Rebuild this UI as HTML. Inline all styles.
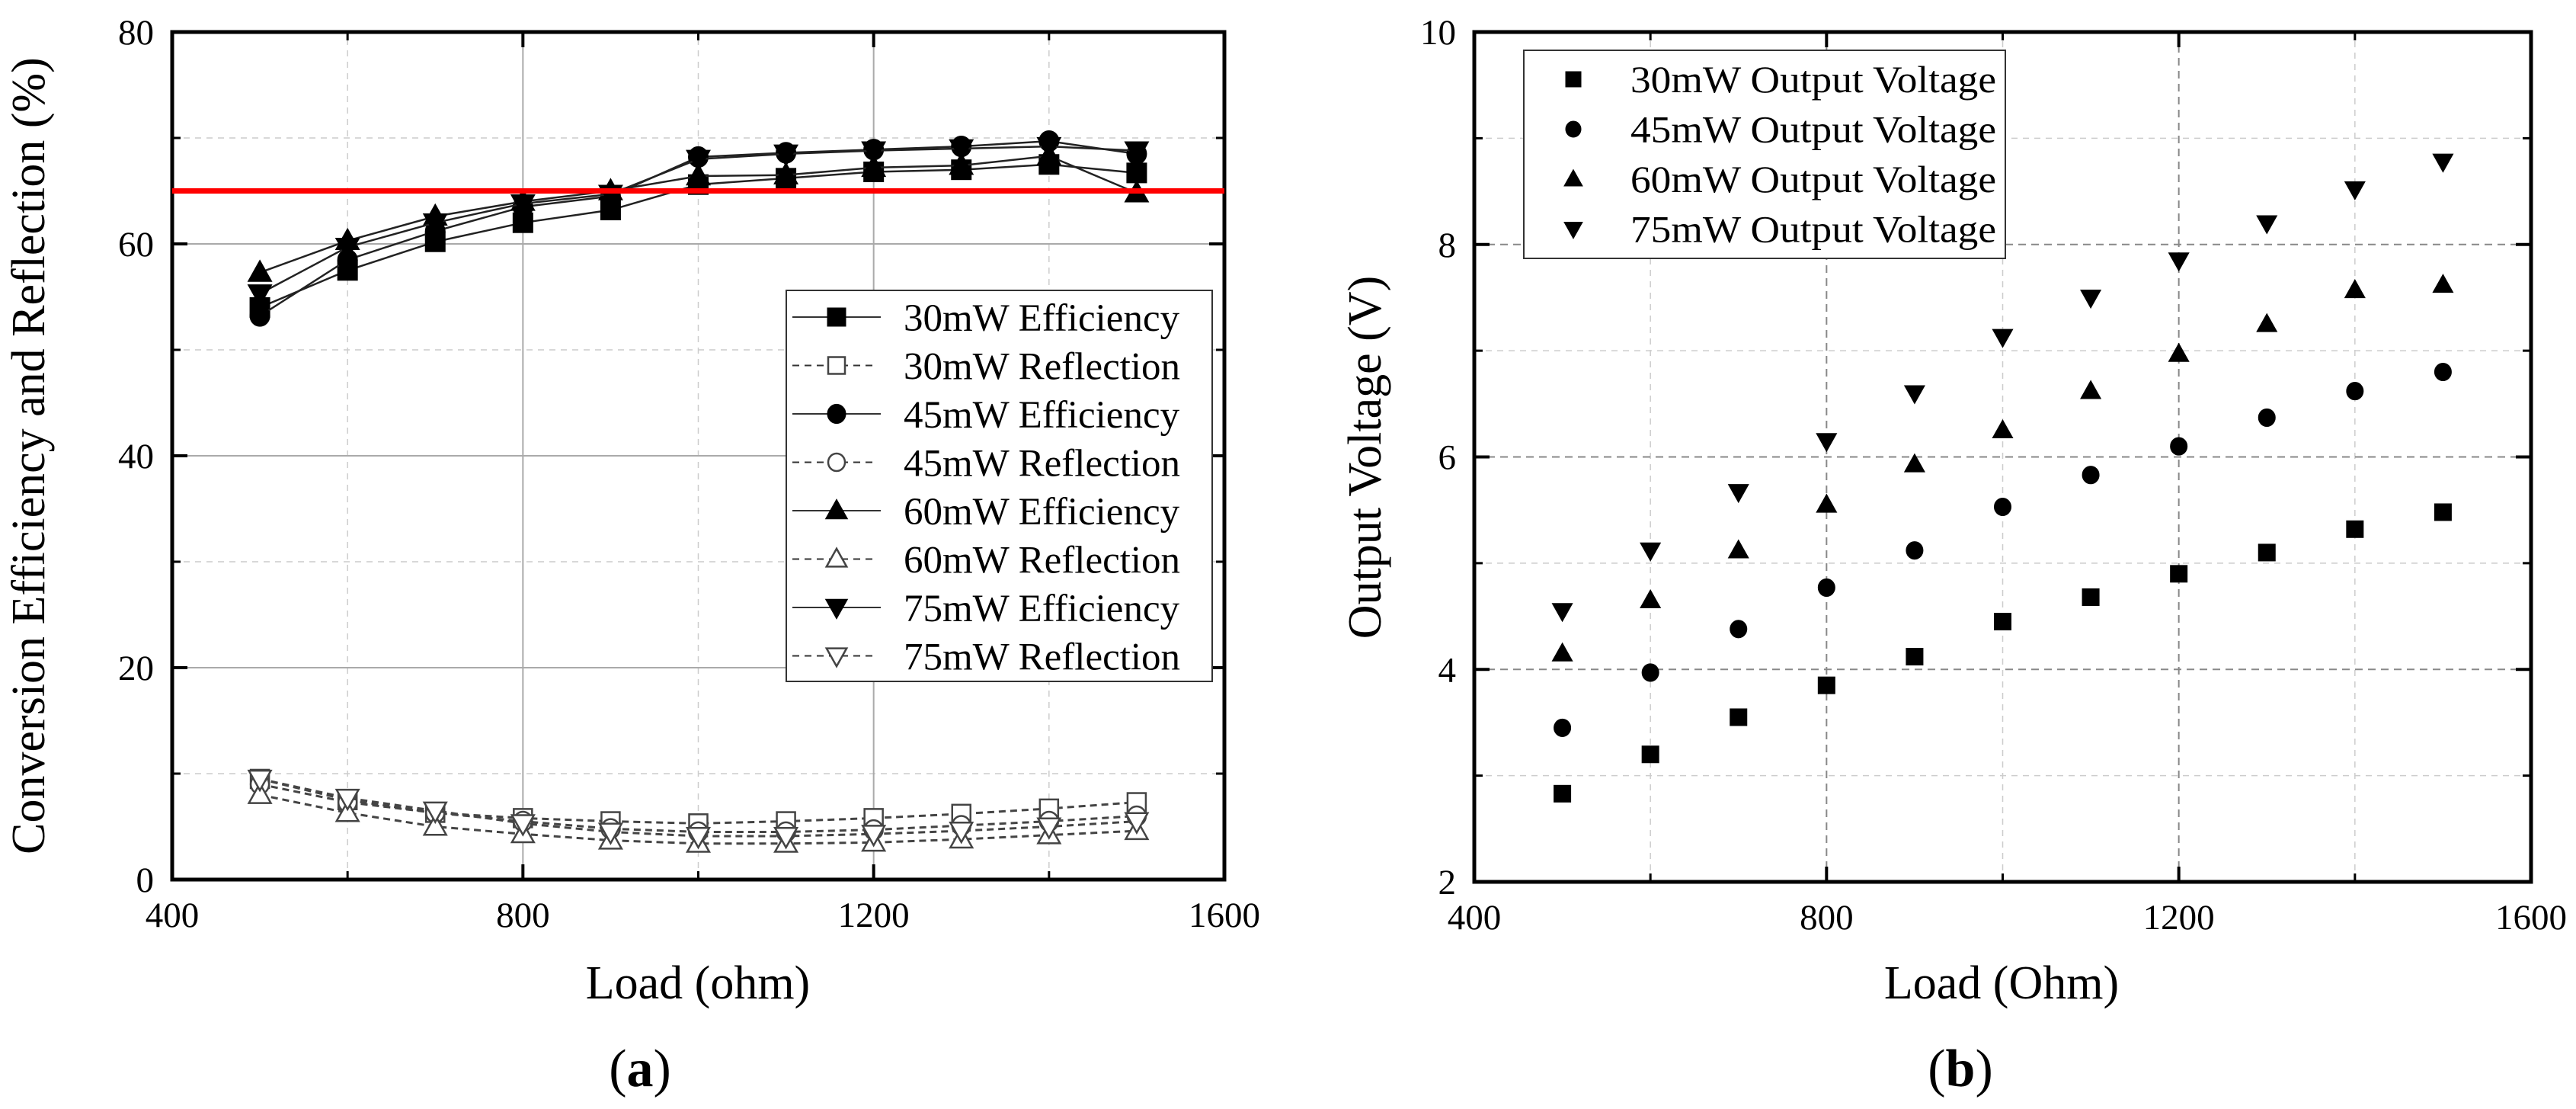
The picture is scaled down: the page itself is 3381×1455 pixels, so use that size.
<!DOCTYPE html>
<html><head><meta charset="utf-8"><style>
html,body{margin:0;padding:0;background:#fff;}
svg{display:block;font-family:"Liberation Serif",serif;}
</style></head><body>
<svg id="fig" width="3381" height="1455" viewBox="0 0 3381 1455" xmlns="http://www.w3.org/2000/svg"></svg>
<script>
const loads = [500,600,700,800,900,1000,1100,1200,1300,1400,1500];
const eff30 = [54.0,57.5,60.2,62.0,63.2,65.6,66.2,66.8,67.0,67.5,66.7];
const eff45 = [53.2,58.5,61.2,63.5,64.5,68.2,68.6,68.9,69.2,69.7,68.5];
const eff60 = [57.3,60.3,62.6,64.0,65.0,66.4,66.5,67.2,67.4,68.3,64.8];
const eff75 = [55.3,59.7,62.0,63.8,64.7,68.0,68.5,68.8,69.0,69.2,68.8];
const ref30 = [9.5,7.5,6.3,5.8,5.5,5.3,5.5,5.8,6.2,6.7,7.3];
const ref45 = [9.0,7.3,6.3,5.5,4.8,4.5,4.5,4.7,5.1,5.5,6.0];
const ref60 = [8.0,6.3,5.0,4.3,3.7,3.4,3.4,3.5,3.8,4.2,4.6];
const ref75 = [9.5,7.7,6.5,5.3,4.5,4.1,4.1,4.3,4.6,5.0,5.5];
const threshold = 65;
const v30 = [2.83,3.2,3.55,3.85,4.12,4.45,4.68,4.9,5.1,5.32,5.48];
const v45 = [3.45,3.97,4.38,4.77,5.12,5.53,5.83,6.1,6.37,6.62,6.8];
const v60 = [4.15,4.65,5.12,5.55,5.93,6.25,6.62,6.97,7.25,7.57,7.62];
const v75 = [4.55,5.12,5.67,6.15,6.6,7.13,7.5,7.85,8.2,8.52,8.78];
const xTicks = [400,800,1200,1600];
const xMinor = [600,1000,1400];
const yTicksA = [0,20,40,60,80];
const yMinorA = [10,30,50,70];
const yTicksB = [2,4,6,8,10];
const yMinorB = [3,5,7,9];

const NS="http://www.w3.org/2000/svg";
const svg=document.getElementById('fig');
function mk(tag,attrs,parent){const e=document.createElementNS(NS,tag);for(const k in attrs)e.setAttribute(k,attrs[k]);(parent||svg).appendChild(e);return e;}

const A={x0:226,x1:1607,y0:1154,y1:42,xmin:400,xmax:1600,ymin:0,ymax:80};
const B={x0:1935,x1:3322,y0:1157,y1:42,xmin:400,xmax:1600,ymin:2,ymax:10};
function sx(P,v){return P.x0+(v-P.xmin)/(P.xmax-P.xmin)*(P.x1-P.x0);}
function sy(P,v){return P.y0-(v-P.ymin)/(P.ymax-P.ymin)*(P.y0-P.y1);}

function marker(g,shape,x,y,s,filled){
  const st={fill:filled?'#000':'#fff',stroke:filled?'#000':'#444','stroke-width':filled?1:2.5};
  let e;
  if(shape==='sq') e=mk('rect',Object.assign({x:x-s/2,y:y-s/2,width:s,height:s},st),g);
  else if(shape==='ci') e=mk('ellipse',Object.assign({cx:x,cy:y,rx:s/2,ry:s/2*1.05},st),g);
  else if(shape==='up') e=mk('polygon',Object.assign({points:`${x},${y-s*0.62} ${x-s*0.6},${y+s*0.45} ${x+s*0.6},${y+s*0.45}`},st),g);
  else e=mk('polygon',Object.assign({points:`${x},${y+s*0.62} ${x-s*0.6},${y-s*0.45} ${x+s*0.6},${y-s*0.45}`},st),g);
  return e;
}

function axes(P,xt,xm,yt,ym,majorStyle,minorStyle,name){
  const g=mk('g',{});
  
  
  xm.forEach(v=>{const l=mk('line',Object.assign({x1:sx(P,v),x2:sx(P,v),y1:P.y0,y2:P.y1},minorStyle),g);});
  ym.forEach(v=>{const l=mk('line',Object.assign({x1:P.x0,x2:P.x1,y1:sy(P,v),y2:sy(P,v)},minorStyle),g);});
  xt.slice(1,-1).forEach(v=>{const l=mk('line',Object.assign({x1:sx(P,v),x2:sx(P,v),y1:P.y0,y2:P.y1},majorStyle),g);});
  yt.slice(1,-1).forEach(v=>{const l=mk('line',Object.assign({x1:P.x0,x2:P.x1,y1:sy(P,v),y2:sy(P,v)},majorStyle),g);});
  xt.forEach(v=>{const x=sx(P,v);mk('line',{x1:x,x2:x,y1:P.y0,y2:P.y0-20,stroke:'#000','stroke-width':4},g);mk('line',{x1:x,x2:x,y1:P.y1,y2:P.y1+20,stroke:'#000','stroke-width':4},g);
    const t=mk('text',{x:x,y:P.y0+62,'font-size':47,'text-anchor':'middle'},g);t.textContent=v;});
  xm.forEach(v=>{const x=sx(P,v);mk('line',{x1:x,x2:x,y1:P.y0,y2:P.y0-11,stroke:'#000','stroke-width':3},g);mk('line',{x1:x,x2:x,y1:P.y1,y2:P.y1+11,stroke:'#000','stroke-width':3},g);});
  yt.forEach(v=>{const y=sy(P,v);mk('line',{x1:P.x0,x2:P.x0+20,y1:y,y2:y,stroke:'#000','stroke-width':4},g);mk('line',{x1:P.x1,x2:P.x1-20,y1:y,y2:y,stroke:'#000','stroke-width':4},g);
    const t=mk('text',{x:P.x0-24,y:y+16,'font-size':47,'text-anchor':'end'},g);t.textContent=v;});
  ym.forEach(v=>{const y=sy(P,v);mk('line',{x1:P.x0,x2:P.x0+11,y1:y,y2:y,stroke:'#000','stroke-width':3},g);mk('line',{x1:P.x1,x2:P.x1-11,y1:y,y2:y,stroke:'#000','stroke-width':3},g);});
  const fr=mk('rect',{x:P.x0,y:P.y1,width:P.x1-P.x0,height:P.y0-P.y1,fill:'none',stroke:'#000','stroke-width':5},g);
  
  return g;
}

// ---- Panel A ----
axes(A,xTicks,xMinor,yTicksA,yMinorA,{stroke:'#aaa','stroke-width':2},{stroke:'#ccc','stroke-width':1.5,'stroke-dasharray':'8 7'},'panel-a');
const effSeries=[[eff30,'sq','30mW'],[eff45,'ci','45mW'],[eff60,'up','60mW'],[eff75,'dn','75mW']];
const refSeries=[[ref30,'sq','30mW'],[ref45,'ci','45mW'],[ref60,'up','60mW'],[ref75,'dn','75mW']];
refSeries.forEach(([d,sh,lab])=>{
  const g=mk('g',{});
  
  
  mk('polyline',{points:d.map((v,i)=>sx(A,loads[i])+','+sy(A,v)).join(' '),fill:'none',stroke:'#444','stroke-width':3,'stroke-dasharray':'9 6'},g);
  d.forEach((v,i)=>{const m=marker(g,sh,sx(A,loads[i]),sy(A,v),24,false);});
});
effSeries.forEach(([d,sh,lab])=>{
  const g=mk('g',{});
  
  
  mk('polyline',{points:d.map((v,i)=>sx(A,loads[i])+','+sy(A,v)).join(' '),fill:'none',stroke:'#222','stroke-width':2.5},g);
  d.forEach((v,i)=>{const m=marker(g,sh,sx(A,loads[i]),sy(A,v),26,true);});
});
const red=mk('line',{x1:A.x0,x2:A.x1,y1:sy(A,threshold),y2:sy(A,threshold),stroke:'#ff0000','stroke-width':7});


{
  const g=mk('g',{});
  
  
  mk('rect',{x:1032,y:381,width:559,height:513,fill:'#fff',stroke:'#333','stroke-width':2},g);
  const items=[];
  effSeries.forEach((e,i)=>{items.push([e[1],e[2]+' Efficiency',true]);items.push([refSeries[i][1],refSeries[i][2]+' Reflection',false]);});
  items.forEach((it,i)=>{
    const y=416+i*63.5;
    const eg=mk('g',{},g);
    
    
    mk('line',{x1:1040,x2:it[2]?1156:1150,y1:y,y2:y,stroke:'#333','stroke-width':2,'stroke-dasharray':it[2]?'none':'9 7'},eg);
    marker(eg,it[0],1098,y,it[2]?24:22,it[2]);
    const t=mk('text',{x:1186,y:y+18,'font-size':51},eg);t.textContent=it[1];
  });
}
{
  const t=mk('text',{x:916,y:1310,'font-size':62,'text-anchor':'middle'});t.textContent='Load (ohm)';
  
  const t2=mk('text',{x:0,y:0,'font-size':62,'text-anchor':'middle',transform:'translate(58,598) rotate(-90)'});t2.textContent='Conversion Efficiency and Reflection (%)';
  
  const t3=mk('text',{x:840,y:1425,'font-size':70,'text-anchor':'middle'});t3.innerHTML='(<tspan font-weight="bold">a</tspan>)';
  
}

// ---- Panel B ----
axes(B,xTicks,xMinor,yTicksB,yMinorB,{stroke:'#888','stroke-width':2,'stroke-dasharray':'10 7'},{stroke:'#ccc','stroke-width':1.5,'stroke-dasharray':'8 7'},'panel-b');
const vSeries=[[v30,'sq','30mW'],[v45,'ci','45mW'],[v60,'up','60mW'],[v75,'dn','75mW']];
vSeries.forEach(([d,sh,lab])=>{
  const g=mk('g',{});
  
  
  d.forEach((v,i)=>{const m=marker(g,sh,sx(B,loads[i]),sy(B,v),22,true);});
});
{
  const g=mk('g',{});
  
  
  mk('rect',{x:2000,y:66,width:632,height:273,fill:'#fff',stroke:'#333','stroke-width':2},g);
  vSeries.forEach((s,i)=>{
    const y=104+i*65.5;
    const eg=mk('g',{},g);
    
    
    marker(eg,s[1],2065,y,20,true);
    const t=mk('text',{x:2140,y:y+17,'font-size':50,textLength:480,lengthAdjust:'spacingAndGlyphs'},eg);t.textContent=s[2]+' Output Voltage';
  });
}
{
  const t=mk('text',{x:2627,y:1310,'font-size':62,'text-anchor':'middle'});t.textContent='Load (Ohm)';
  
  const t2=mk('text',{x:0,y:0,'font-size':62,'text-anchor':'middle',transform:'translate(1812,600) rotate(-90)'});t2.textContent='Output Voltage (V)';
  
  const t3=mk('text',{x:2573,y:1425,'font-size':70,'text-anchor':'middle'});t3.innerHTML='(<tspan font-weight="bold">b</tspan>)';
  
}
</script>
</body></html>
